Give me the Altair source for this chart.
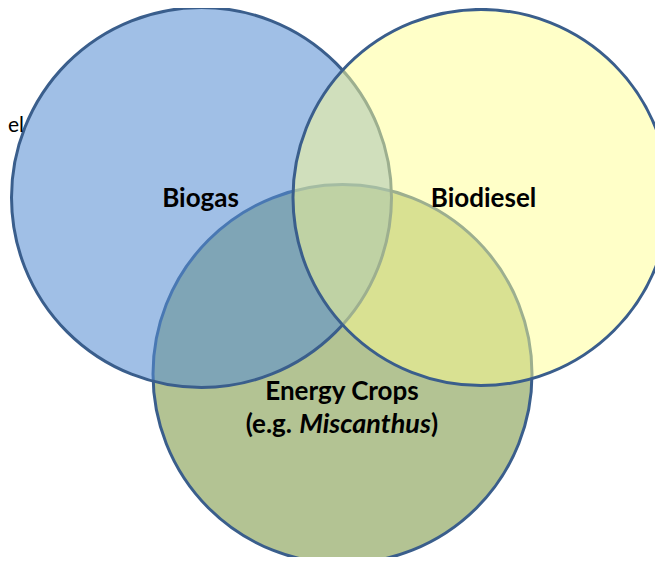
import altair as alt
import pandas as pd

# Venn sets (drawn bottom to top)
set_names = ["Energy Crops", "Biogas", "Biodiesel"]
center_x = [342.5, 201.5, 481.0]
center_y = [374.0, 197.5, 197.5]
radius = [189.5, 190.0, 188.0]
fill_colors = ["#B3C393", "#558DD2", "#FFFF91"]
fill_opacity = [1.0, 0.56, 0.5]

# Labels
label_text = ["Biogas", "Biodiesel", "Energy Crops"]
label_x = [200.5, 483.5, 342.0]
label_y = [206.5, 206.5, 400.0]

# second line of the Energy Crops label: "(e.g. Miscanthus)"
line2_text = ["(e.g.", "Miscanthus", ")"]
line2_x = [292.0, 365.0, 431.0]
line2_y = [433.0, 433.0, 433.0]

W, H = 647, 549
xs = alt.Scale(domain=[8, 655], nice=False, zero=False)
ys = alt.Scale(domain=[8, 557], nice=False, zero=False, reverse=True)
FS = 26

circles = pd.DataFrame({
    "name": set_names,
    "x": center_x,
    "y": center_y,
    "size": [(2 * r) ** 2 for r in radius],
    "fill": fill_colors,
    "fo": fill_opacity,
    "order": list(range(len(set_names))),
})

circle_layer = alt.Chart(circles).mark_point(
    shape="circle", filled=True, stroke="#3A5E8C", strokeWidth=3, opacity=1, strokeOpacity=1
).encode(
    x=alt.X("x:Q", scale=xs, axis=None),
    y=alt.Y("y:Q", scale=ys, axis=None),
    size=alt.Size("size:Q", scale=None, legend=None),
    fill=alt.Fill("fill:N", scale=None, legend=None),
    fillOpacity=alt.FillOpacity("fo:Q", scale=None, legend=None),
    order=alt.Order("order:Q"),
)


def text_layer(texts, xv, yv, align="center", **kw):
    df = pd.DataFrame({"text": texts, "x": xv, "y": yv})
    return alt.Chart(df).mark_text(
        font="Lato", align=align, baseline="alphabetic", color="black", **kw
    ).encode(
        x=alt.X("x:Q", scale=xs, axis=None),
        y=alt.Y("y:Q", scale=ys, axis=None),
        text="text:N",
    )


label_layer = text_layer(label_text, label_x, label_y, fontSize=FS, fontWeight="bold")
l2a = text_layer(line2_text[:1], line2_x[:1], line2_y[:1], align="right", fontSize=FS, fontWeight="bold")
l2b = text_layer(line2_text[1:2], line2_x[1:2], line2_y[1:2], align="center", fontSize=FS + 1,
                 fontWeight="bold", fontStyle="italic")
l2c = text_layer(line2_text[2:], line2_x[2:], line2_y[2:], align="left", fontSize=FS, fontWeight="bold")

# cut-off label at the left edge
edge_layer = text_layer(["el"], [8.0], [132.0], align="left", fontSize=21)

chart = alt.layer(circle_layer, label_layer, l2a, l2b, l2c, edge_layer).properties(
    width=W, height=H, autosize=alt.AutoSizeParams(type="none"), padding=0
).configure_view(stroke=None)

chart.save("out.html", embed_options={"renderer": "svg", "actions": False})
